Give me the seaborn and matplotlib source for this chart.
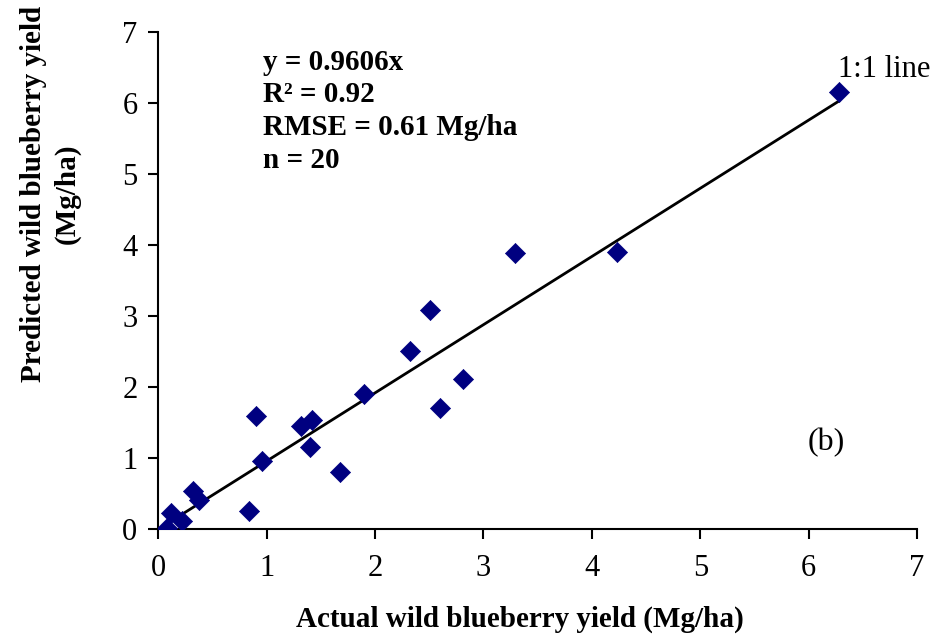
import matplotlib
matplotlib.use("Agg")
import matplotlib.pyplot as plt
import seaborn as sns
import numpy as np
import pandas as pd

actual = [0.084, 0.118, 0.222, 0.318, 0.379, 0.838, 0.902, 0.955, 1.320, 1.421,
          1.398, 1.674, 1.896, 2.320, 2.505, 2.602, 2.812, 3.291, 4.235, 6.281]
predicted = [0.014, 0.234, 0.117, 0.539, 0.413, 0.258, 1.600, 0.966, 1.455, 1.537,
             1.155, 0.803, 1.910, 2.515, 3.089, 1.704, 2.117, 3.896, 3.910, 6.155]
slope = 0.9606
ticks = [0, 1, 2, 3, 4, 5, 6, 7]

sns.set_theme(style="ticks")
plt.rcParams['font.family'] = ['Liberation Serif', 'DejaVu Serif']
plt.rcParams['text.color'] = 'black'
plt.rcParams['axes.labelcolor'] = 'black'
plt.rcParams['xtick.color'] = 'black'
plt.rcParams['ytick.color'] = 'black'

df = pd.DataFrame({"actual": actual, "predicted": predicted})
line_x = [min(actual), max(actual)]
line_df = pd.DataFrame({"x": line_x, "y": [slope * v for v in line_x]})

fig = plt.figure(figsize=(9.38, 6.4), dpi=100)
ax = fig.add_axes([0.1687, 0.173, 0.809, 0.7765])

sns.lineplot(data=line_df, x="x", y="y", ax=ax, color="black", linewidth=2)
sns.scatterplot(data=df, x="actual", y="predicted", ax=ax, marker="D", s=105,
                color="#000080", edgecolor="#000080", linewidth=0.5, zorder=3)

ax.set_xlim(0, 7)
ax.set_ylim(0, 7)
ax.set_xticks(ticks)
ax.set_yticks(ticks)
ax.tick_params(axis="both", direction="out", length=7, width=1.5, labelsize=22,
               colors="black", pad=8)
ax.tick_params(axis="x", pad=11)
for s in ["top", "right"]:
    ax.spines[s].set_visible(False)
for s in ["left", "bottom"]:
    ax.spines[s].set_linewidth(1.5)
    ax.spines[s].set_color("black")

ax.set_xlabel("Actual wild blueberry yield (Mg/ha)", fontsize=21, fontweight="bold", labelpad=16)
ax.xaxis.label.set_x(0.476)
ax.set_ylabel("Predicted wild blueberry yield\n(Mg/ha)", fontsize=21, fontweight="bold",
              labelpad=30, linespacing=1.3)
ax.yaxis.label.set_y(0.675)

ax.text(0.967, 6.77, "y = 0.9606x\nR² = 0.92\nRMSE = 0.61 Mg/ha\nn = 20",
        fontsize=21, fontweight="bold", va="top", ha="left", linespacing=1.27)
ax.text(6.27, 6.47, "1:1 line", fontsize=22, va="center", ha="left")
ax.text(5.99, 1.215, "(b)", fontsize=23, va="center", ha="left")

fig.savefig("out.png", dpi=100)
